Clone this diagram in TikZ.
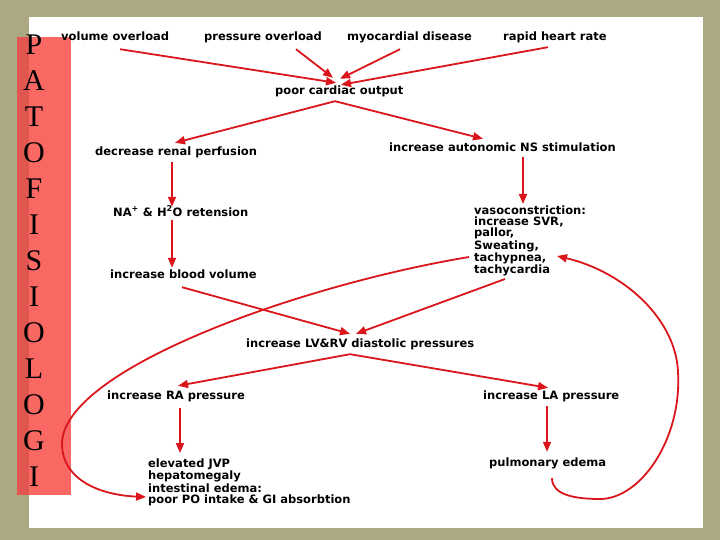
\documentclass[tikz,border=0pt]{standalone}
\usepackage{fontspec}
\setmainfont{Liberation Serif}
\newfontfamily\lblfont{DejaVu Sans}
\usetikzlibrary{arrows.meta}
\definecolor{bgolive}{RGB}{172,168,130}
\definecolor{barred}{RGB}{250,104,100}
\definecolor{bardark}{RGB}{226,86,80}
\definecolor{arrred}{RGB}{218,22,28}

\begin{document}
\begin{tikzpicture}[x=1pt,y=-1pt,
  lbl/.style={anchor=west,inner sep=0pt,text height=8pt,text depth=2pt,font=\lblfont\bfseries\fontsize{11.5}{11}\selectfont},
  blk/.style={anchor=north west,inner sep=0pt,align=left,font=\lblfont\bfseries\fontsize{11.5}{11}\selectfont},
  arr/.style={draw=arrred,line width=1.8pt,-{Triangle[length=10pt,width=8pt]}},
  letter/.style={inner sep=0pt,font=\fontsize{30}{30}\selectfont}]
\useasboundingbox (0,0) rectangle (720,540);
\fill[bgolive] (0,0) rectangle (720,540);
\fill[white] (29,17) rectangle (703,528);
% side bar
\fill[barred] (17,37) rectangle (71,495);
\fill[bardark] (17,37) rectangle (29,495);
\foreach \ch [count=\i] in {P,A,T,O,F,I,S,I,O,L,O,G,I}
  \node[letter] (let\i) at (34,{9+36*\i}) {\ch};
% causes
\node[lbl] (vol) at (61,38) {volume overload};
\node[lbl] (pres) at (204,38) {pressure overload};
\node[lbl] (myo) at (347,38) {myocardial disease};
\node[lbl] (rapid) at (503,38) {rapid heart rate};
\node[lbl] (poc) at (275,92) {poor cardiac output};
\node[lbl] (renal) at (95,153) {decrease renal perfusion};
\node[lbl] (auto) at (389,149) {increase autonomic NS stimulation};
\node[lbl] (na) at (113,213) {NA\textsuperscript{+} \& H\textsuperscript{2}O retension};
\node[lbl] (blood) at (110,275) {increase blood volume};
\node[blk] (vaso) at (474,206) {vasoconstriction:\\increase SVR,\\pallor,\\Sweating,\\tachypnea,\\tachycardia};
\node[lbl] (lvrv) at (246,344) {increase LV\&RV diastolic pressures};
\node[lbl] (ra) at (107,396) {increase RA pressure};
\node[lbl] (la) at (483,396) {increase LA pressure};
\node[blk] (jvp) at (148,459) {elevated JVP\\hepatomegaly\\intestinal edema:\\poor PO intake \& GI absorbtion};
\node[lbl] (pulm) at (489,463) {pulmonary edema};
% arrows
\draw[arr] ([shift={(59,6)}]vol.south west) -- ([shift={(61,-4)}]poc.north west);
\draw[arr] ([shift={(92,6)}]pres.south west) -- ([shift={(58,-9)}]poc.north west);
\draw[arr] ([shift={(53,6)}]myo.south west) -- ([shift={(65,-8)}]poc.north west);
\draw[arr] ([shift={(45,4)}]rapid.south west) -- ([shift={(66,-2)}]poc.north west);
\draw[arr] ([shift={(60,4)}]poc.south west) -- ([shift={(80,-5)}]renal.north west);
\draw[arr] ([shift={(60,4)}]poc.south west) -- ([shift={(94,-5)}]auto.north west);
\draw[arr] ([shift={(77,4)}]renal.south west) -- ([shift={(59,-1)}]na.north west);
\draw[arr] ([shift={(59,2)}]na.south west) -- ([shift={(62,-2)}]blood.north west);
\draw[arr] ([shift={(134,3)}]auto.south west) -- ([shift={(49,-2)}]vaso.north west);
\draw[arr] ([shift={(72,7)}]blood.south west) -- ([shift={(104,-5)}]lvrv.north west);
\draw[arr] ([shift={(31,73)}]vaso.north west) -- ([shift={(110,-5)}]lvrv.north west);
\draw[arr] ([shift={(104,5)}]lvrv.south west) -- ([shift={(71,-5)}]ra.north west);
\draw[arr] ([shift={(104,5)}]lvrv.south west) -- ([shift={(65,-3)}]la.north west);
\draw[arr] ([shift={(73,7)}]ra.south west) -- ([shift={(32,-6)}]jvp.north west);
\draw[arr] ([shift={(64,5)}]la.south west) -- ([shift={(58,-6)}]pulm.north west);
% feedback curves
\draw[arr] ([shift={(-5,51)}]vaso.north west) .. controls (300,285) and (60,370) .. (62,445)
  .. controls (63,480) and (100,495) .. ([shift={(-2,38)}]jvp.north west);
\draw[arr] ([shift={(63,10)}]pulm.south west) .. controls (552,495) and (575,499) .. (600,499)
  .. controls (640,499) and (682,440) .. (678,372)
  .. controls (676,320) and (625,272) .. ([shift={(83,50)}]vaso.north west);
\end{tikzpicture}
\end{document}
